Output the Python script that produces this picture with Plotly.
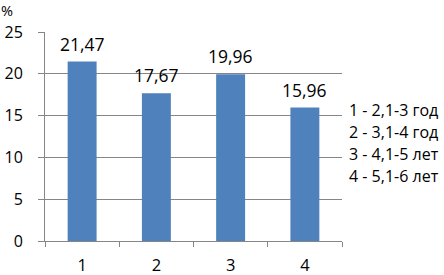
import plotly.graph_objects as go

categories = ["1", "2", "3", "4"]
values = [21.47, 17.67, 19.96, 15.96]
legend_lines = ["1 - 2,1-3 год", "2 - 3,1-4 год", "3 - 4,1-5 лет", "4 - 5,1-6 лет"]
y_ticks = [0, 5, 10, 15, 20, 25]

FONT = "Open Sans"
GRAY = "#868686"

fig = go.Figure(go.Bar(
    x=categories, y=values,
    marker=dict(color="#4F81BD", line=dict(width=0)),
    showlegend=False, hoverinfo="skip",
))

for i, v in enumerate(values):
    fig.add_annotation(x=i, y=v, text=f"{v:.2f}".replace(".", ","),
                       xref="x", yref="y", yanchor="bottom", yshift=4,
                       showarrow=False, font=dict(family=FONT, size=17.5, color="black"))

fig.update_layout(
    width=444, height=275,
    margin=dict(l=45, r=102, t=32, b=34),
    paper_bgcolor="white", plot_bgcolor="white",
    bargap=0.61,
    showlegend=False,
    font=dict(family=FONT, size=16, color="black"),
    xaxis=dict(type="category", range=[-0.5, 3.5], showline=True, linecolor=GRAY, linewidth=1,
               ticks="outside", tickson="boundaries", ticklen=5, tickcolor=GRAY,
               tickfont=dict(family=FONT, size=16.5), showgrid=False,
               automargin=False, ticklabelstandoff=9),
    yaxis=dict(range=[0, 25], tickvals=y_ticks, showline=True, linecolor=GRAY, linewidth=1,
               ticks="outside", ticklen=6, tickcolor=GRAY, gridcolor=GRAY, gridwidth=1,
               tickfont=dict(family=FONT, size=16), zeroline=False,
               automargin=False, ticklabelstandoff=12),
)

fig.add_annotation(text="%", xref="paper", yref="paper", x=-46/297, y=1 + 33/209,
                   xanchor="left", yanchor="top", showarrow=False,
                   font=dict(family=FONT, size=14.5))

for i, line in enumerate(legend_lines):
    fig.add_annotation(text=line, xref="paper", yref="paper",
                       x=1 + 5/297, y=(241 - (110 + 22 * i)) / 209,
                       xanchor="left", yanchor="middle", showarrow=False,
                       font=dict(family=FONT, size=16))

fig.write_html("out.html", config={"displayModeBar": False},
               post_script="document.body.style.margin='0';document.body.style.overflow='hidden';")
